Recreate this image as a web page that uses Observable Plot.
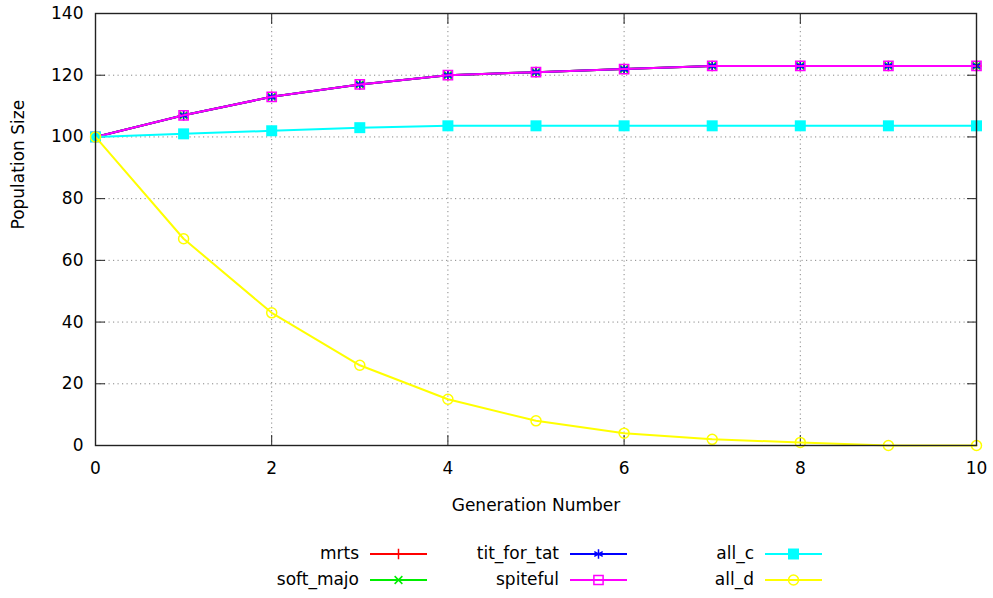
<!DOCTYPE html>
<html>
<head>
<meta charset="utf-8">
<script src="https://cdn.jsdelivr.net/npm/d3@7"></script>
<script src="https://cdn.jsdelivr.net/npm/@observablehq/plot@0.6"></script>
<style>
  html, body { margin: 0; padding: 0; background: #fff; }
  #wrap { position: relative; width: 993px; height: 598px; font-family: "DejaVu Sans", sans-serif; }
  #legend { position: absolute; left: 0; top: 530px; width: 993px; height: 68px; }
  .lg-text { position: absolute; width: 200px; text-align: right; font-size: 17px; line-height: 20px; color: #000; }
  .lg-sw { position: absolute; }
</style>
</head>
<body>
<div id="wrap"><div id="chart"></div><div id="legend"></div></div>
<script>
// ---- data ----
const generations = [0, 1, 2, 3, 4, 5, 6, 7, 8, 9, 10];
const seriesNames = ["mrts", "soft_majo", "tit_for_tat", "spiteful", "all_c", "all_d"];
const mrts        = [100, 107, 113, 117, 120, 121, 122, 123, 123, 123, 123];
const soft_majo   = [100, 107, 113, 117, 120, 121, 122, 123, 123, 123, 123];
const tit_for_tat = [100, 107, 113, 117, 120, 121, 122, 123, 123, 123, 123];
const spiteful    = [100, 107, 113, 117, 120, 121, 122, 123, 123, 123, 123];
const all_c       = [100, 101, 102, 103, 103.6, 103.6, 103.6, 103.6, 103.6, 103.6, 103.6];
const all_d       = [100, 67, 43, 26, 15, 8, 4, 2, 1, 0, 0];
const xTicks = [0, 2, 4, 6, 8, 10];
const yTicks = [0, 20, 40, 60, 80, 100, 120, 140];
const xLabel = "Generation Number";
const yLabel = "Population Size";

// ---- styles ----
const colors  = ["#ff0000", "#00ee00", "#0000ff", "#ff00ff", "#00ffff", "#ffff00"];
const symbols = ["plus", "times", "asterisk", "square", "square", "circle"];
const filled  = [false, false, false, false, true, false];
const radii   = [3.5, 3.6, 4.6, 5.2, 6.2, 5];

const values = [mrts, soft_majo, tit_for_tat, spiteful, all_c, all_d];
const rowsFor = (i) => generations.map((g, j) => ({gen: g, value: values[i][j], series: seriesNames[i]}));

const seriesMarks = [];
seriesNames.forEach((name, i) => {
  const rows = rowsFor(i);
  seriesMarks.push(Plot.line(rows, {x: "gen", y: "value", stroke: colors[i], strokeWidth: 2}));
  seriesMarks.push(Plot.dot(rows, filled[i]
    ? {x: "gen", y: "value", symbol: symbols[i], r: radii[i], fill: colors[i], stroke: "none"}
    : {x: "gen", y: "value", symbol: symbols[i], r: radii[i], fill: "none", stroke: colors[i], strokeWidth: 1.5}));
});

const gridStyle = {stroke: "#888", strokeOpacity: 1, strokeWidth: 1, strokeDasharray: "1.2,3.3"};

const chart = Plot.plot({
  width: 993,
  height: 530,
  marginLeft: 95,
  marginRight: 17,
  marginTop: 13,
  marginBottom: 85,
  style: {fontFamily: "DejaVu Sans, sans-serif", fontSize: "17px", background: "white", color: "#000"},
  x: {domain: [0, 10]},
  y: {domain: [0, 140]},
  marks: [
    Plot.gridX(xTicks, gridStyle),
    Plot.gridY(yTicks, gridStyle),
    // tick labels
    Plot.axisX(xTicks, {tickSize: 0, tickPadding: 16, label: null}),
    Plot.axisY(yTicks, {tickSize: 0, tickPadding: 12, label: null}),
    // inward ticks, mirrored
    Plot.axisX(xTicks, {anchor: "bottom", tickSize: 10, dy: -10, fill: "none", label: null, stroke: "#222"}),
    Plot.axisX(xTicks, {anchor: "top", tickSize: 10, dy: 10, fill: "none", label: null, stroke: "#222"}),
    Plot.axisY(yTicks, {anchor: "left", tickSize: 10, dx: 10, fill: "none", label: null, stroke: "#222"}),
    Plot.axisY(yTicks, {anchor: "right", tickSize: 10, dx: -10, fill: "none", label: null, stroke: "#222"}),
    ...seriesMarks,
    Plot.frame({stroke: "#222", strokeWidth: 1.4}),
    Plot.text([xLabel], {frameAnchor: "bottom", dy: 65, fontSize: 17, fill: "#000"}),
    Plot.text([yLabel], {frameAnchor: "left", dx: -77, rotate: -90, fontSize: 17, fill: "#000"})
  ]
});
document.getElementById("chart").appendChild(chart);

// ---- legend (below the svg) ----
const legendTextRight = [359, 359, 559, 559, 754, 754];
const legendRowCenter = [24, 50, 24, 50, 24, 50];
const legend = document.getElementById("legend");
const symbolMap = {plus: d3.symbolPlus, times: d3.symbolTimes, asterisk: d3.symbolAsterisk, square: d3.symbolSquare, circle: d3.symbolCircle};
seriesNames.forEach((name, i) => {
  const t = document.createElement("div");
  t.className = "lg-text";
  t.textContent = name;
  t.style.left = (legendTextRight[i] - 200) + "px";
  t.style.top = (legendRowCenter[i] - 11) + "px";
  legend.appendChild(t);
  const sw = d3.create("svg").attr("class", "lg-sw").attr("width", 58).attr("height", 16)
    .style("left", (legendTextRight[i] + 11) + "px").style("top", (legendRowCenter[i] - 8) + "px");
  sw.append("line").attr("x1", 0).attr("x2", 57).attr("y1", 8).attr("y2", 8).attr("stroke", colors[i]).attr("stroke-width", 2);
  const p = d3.symbol(symbolMap[symbols[i]], radii[i] * radii[i] * Math.PI)();
  sw.append("path").attr("d", p).attr("transform", "translate(28.5,8)")
    .attr("fill", filled[i] ? colors[i] : "none")
    .attr("stroke", filled[i] ? "none" : colors[i])
    .attr("stroke-width", 1.5);
  legend.appendChild(sw.node());
});
</script>
</body>
</html>
